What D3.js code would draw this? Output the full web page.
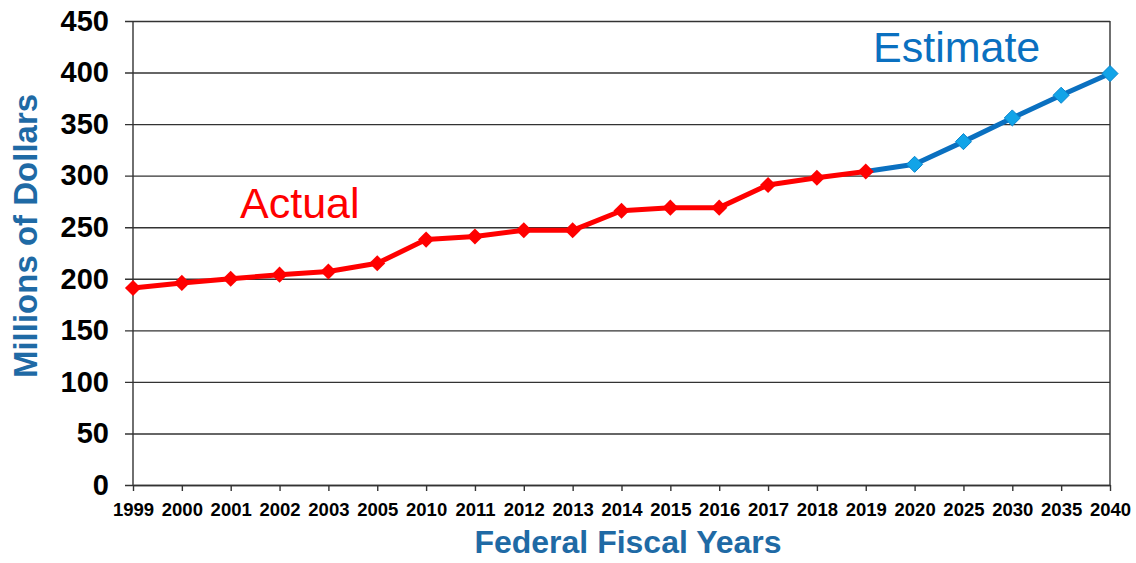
<!DOCTYPE html>
<html>
<head>
<meta charset="utf-8">
<script src="https://cdn.jsdelivr.net/npm/d3@7"></script>
<style>
  body { margin: 0; background: #fff; }
  svg { font-family: Arial, "Liberation Sans", sans-serif; }
</style>
</head>
<body>
<div id="chart"></div>
<script>
// data
const years = ["1999","2000","2001","2002","2003","2005","2010","2011","2012","2013",
               "2014","2015","2016","2017","2018","2019","2020","2025","2030","2035","2040"];
const actualYears = years.slice(0, 16);
const actualValues = [191, 196, 200, 204, 207, 215, 238, 241, 247, 247,
                      266, 269, 269, 291, 298, 304];
const estimateYears = ["2019","2020","2025","2030","2035","2040"];
const estimateValues = [304, 311, 333, 356, 378, 399];
const yTicks = [0, 50, 100, 150, 200, 250, 300, 350, 400, 450];

let m = { left: 133, right: 26, top: 21, bottom: 78 };
let width = 1136 - m.left - m.right,
    height = 563 - m.top - m.bottom;

const gridColor = "#333";

let svg = d3.select("#chart").append("svg")
    .attr("width", 1136)
    .attr("height", 563);

let vis = svg.append("g")
    .attr("transform", "translate(" + m.left + "," + m.top + ")");

let x = d3.scalePoint().domain(years).range([0, width]).padding(0);
let y = d3.scaleLinear().domain([0, 450]).range([height, 0]);

// gridlines + y axis
vis.append("g")
    .call(d3.axisLeft(y).tickValues(yTicks).tickSize(-width).tickSizeOuter(0).tickPadding(24))
    .call(g => g.select(".domain").remove())
    .call(g => g.selectAll(".tick line")
        .attr("x1", -8).attr("stroke", gridColor).attr("stroke-width", 1.4))
    .call(g => g.selectAll(".tick text")
        .attr("font-size", 29).attr("font-weight", "bold").attr("fill", "#000")
        .attr("font-family", "Arial, 'Liberation Sans', sans-serif"));

// left + right frame lines
vis.append("line").attr("x1", 0).attr("x2", 0).attr("y1", 0).attr("y2", height)
    .attr("stroke", gridColor).attr("stroke-width", 1.4);
vis.append("line").attr("x1", width).attr("x2", width).attr("y1", 0).attr("y2", height)
    .attr("stroke", gridColor).attr("stroke-width", 1.4);

// x axis
vis.append("g")
    .attr("transform", "translate(0," + height + ")")
    .call(d3.axisBottom(x).tickSize(6).tickSizeOuter(0).tickPadding(12))
    .call(g => g.select(".domain").attr("stroke", gridColor).attr("stroke-width", 1.4))
    .call(g => g.selectAll(".tick line").attr("stroke", gridColor).attr("stroke-width", 1.4))
    .call(g => g.selectAll(".tick text")
        .attr("font-size", 18.5).attr("font-weight", "bold").attr("fill", "#000")
        .attr("font-family", "Arial, 'Liberation Sans', sans-serif"));

let line = d3.line().x(d => x(d[0])).y(d => y(d[1]));
let diamond = d3.symbol().type(d3.symbolDiamond2).size(165);

function series(ys, vs, lineColor) {
    let pts = ys.map((k, i) => [k, vs[i]]);
    vis.append("path").datum(pts)
        .attr("d", line)
        .attr("fill", "none")
        .attr("stroke", lineColor)
        .attr("stroke-width", 5)
        .attr("stroke-linejoin", "round");
    return pts;
}

let estPts = series(estimateYears, estimateValues, "#0a70c0");
let actPts = series(actualYears, actualValues, "#ff0000");

vis.selectAll(".estMark").data(estPts.slice(1)).enter().append("path")
    .attr("class", "estMark")
    .attr("transform", d => "translate(" + x(d[0]) + "," + y(d[1]) + ")")
    .attr("d", diamond)
    .attr("fill", "#12a4e8")
    .attr("stroke", "#0a86cf")
    .attr("stroke-width", 1);

vis.selectAll(".actMark").data(actPts).enter().append("path")
    .attr("class", "actMark")
    .attr("transform", d => "translate(" + x(d[0]) + "," + y(d[1]) + ")")
    .attr("d", diamond)
    .attr("fill", "#ff0000");

// annotations
svg.append("text")
    .attr("x", 240).attr("y", 218)
    .attr("font-size", 43).attr("fill", "#ff0000")
    .text("Actual");

svg.append("text")
    .attr("x", 873).attr("y", 62)
    .attr("font-size", 43).attr("fill", "#0a70c0")
    .text("Estimate");

// axis titles
svg.append("text")
    .attr("x", 628).attr("y", 553)
    .attr("text-anchor", "middle")
    .attr("font-size", 32).attr("font-weight", "bold").attr("fill", "#1f6aa5")
    .text("Federal Fiscal Years");

svg.append("text")
    .attr("transform", "translate(37,236) rotate(-90)")
    .attr("text-anchor", "middle")
    .attr("font-size", 33).attr("font-weight", "bold").attr("fill", "#1f6aa5")
    .text("Millions of Dollars");
</script>
</body>
</html>
